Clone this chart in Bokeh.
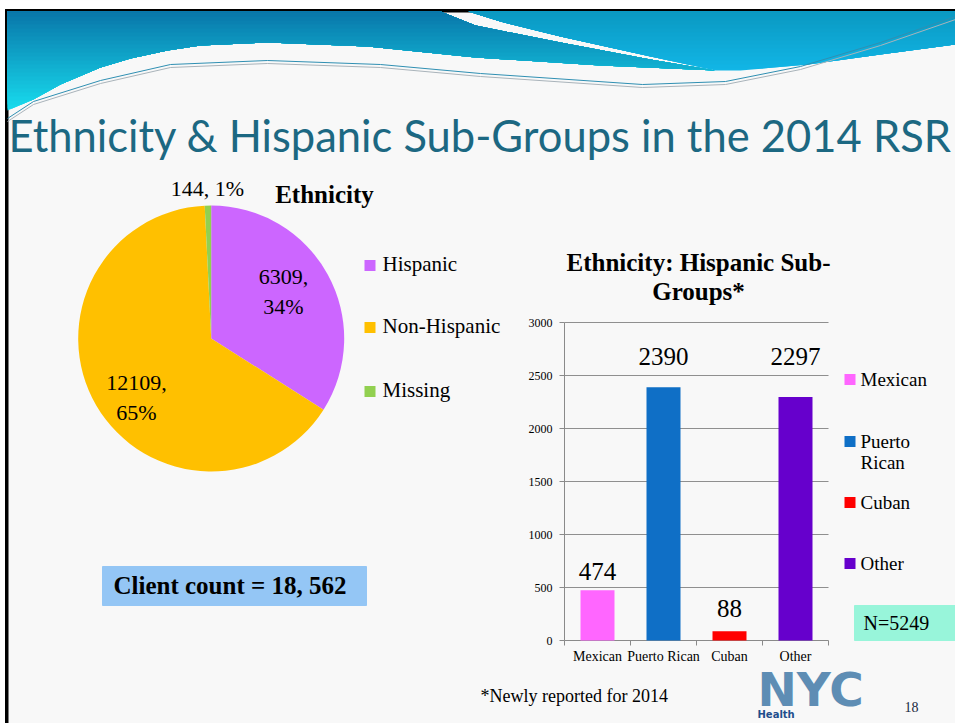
import math
import textwrap
from bokeh.plotting import figure
from bokeh.models import Range1d, ColumnDataSource
from bokeh.core.properties import value
from bokeh.embed import file_html
from bokeh.resources import INLINE

# ---------------- data ----------------
eth_labels = ["Hispanic", "Non-Hispanic", "Missing"]
eth_counts = [6309, 12109, 144]
eth_colors = ["#CC66FF", "#FFC000", "#92D050"]

sub_labels = ["Mexican", "Puerto Rican", "Cuban", "Other"]
sub_counts = [474, 2390, 88, 2297]
sub_colors = ["#FF66FF", "#0F6FC6", "#FF0000", "#6600CC"]

y_ticks = [0, 500, 1000, 1500, 2000, 2500, 3000]

title_text = "Ethnicity & Hispanic Sub-Groups in the 2014 RSR"
pie_title = "Ethnicity"
bar_title_lines = ["Ethnicity: Hispanic Sub-", "Groups*"]
footnote = "*Newly reported for 2014"
page_no = "18"

# ---------------- layout (reference pixel space) ----------------
W, H = 955, 723
X0, Y0 = 0, 0


def Y(py):
    return (Y0 + H) + Y0 - py


def YB(baseline, size, r=0.34):
    """data y of the text middle for a wanted baseline (pixels from top)"""
    return Y(baseline - r * size)


SERIF = value("Liberation Serif")
SANS = value("Lato")
BG = "#F8F8F8"

p = figure(width=W, height=H, x_range=Range1d(X0, X0 + W), y_range=Range1d(Y0, Y0 + H),
           output_backend="svg", toolbar_location=None, x_axis_type=None, y_axis_type=None,
           min_border=0, outline_line_color=None, background_fill_color=BG,
           border_fill_color=BG)
p.grid.grid_line_color = None

# ---- slide frame ----
p.quad(left=0, right=W, bottom=Y(9), top=Y(0), color="white")
p.quad(left=0, right=5, bottom=Y(H), top=Y(0), color="white")
p.quad(left=5, right=W, bottom=Y(11.5), top=Y(9), color="black")
p.quad(left=5, right=7.5, bottom=Y(H), top=Y(9), color="black")


# ---- header swoosh (decoration) ----
def clip_above(poly, ycut):
    """keep part of polygon with py <= ycut"""
    out = []
    n = len(poly)
    for i in range(n):
        a, b = poly[i], poly[(i + 1) % n]
        ina, inb = a[1] <= ycut, b[1] <= ycut
        if ina:
            out.append(a)
        if ina != inb:
            t = (ycut - a[1]) / (b[1] - a[1])
            out.append((a[0] + t * (b[0] - a[0]), ycut))
    return out


def mix(c1, c2, t):
    a = [int(c1[i:i + 2], 16) for i in (1, 3, 5)]
    b = [int(c2[i:i + 2], 16) for i in (1, 3, 5)]
    return "#%02x%02x%02x" % tuple(round(a[j] + (b[j] - a[j]) * t) for j in range(3))


swoosh_a = [(7, 11), (440, 11), (475, 25), (560, 42), (650, 59), (715, 70),
            (600, 65), (475, 57), (367, 46), (267, 42), (200, 45), (167, 50), (130, 58),
            (100, 67), (60, 84), (33, 99), (7, 110)]
swoosh_b = [(468, 11), (955, 11), (955, 44), (880, 54), (808, 64), (740, 70),
            (715, 70), (650, 56), (560, 36), (500, 21)]


def bands(poly, ytop, ybot, ctop, cbot, step=4):
    ycut = ybot
    while ycut > ytop:
        t = (ycut - ytop) / (ybot - ytop)
        cp = clip_above(poly, ycut)
        if len(cp) >= 3:
            p.patch([q[0] for q in cp], [Y(q[1]) for q in cp], color=mix(ctop, cbot, t),
                    line_color=None)
        ycut -= step


bands(swoosh_a, 11, 112, "#0874A8", "#18DCEE")
bands(swoosh_b, 11, 72, "#0A98C0", "#12B6E6")

curve_pts = [(7, 118), (33, 101), (100, 80), (170, 64), (267, 60), (380, 64), (480, 73),
             (642, 84), (725, 81), (800, 66), (880, 42), (955, 16)]
p.line([q[0] for q in curve_pts], [Y(q[1]) for q in curve_pts], line_color="#2F8FB2", line_width=1)
p.line([q[0] for q in curve_pts], [Y(q[1] + 3) for q in curve_pts], line_color="#A9B3BA", line_width=1)

# ---- title ----
p.text(x=[8], y=[YB(151, 43.5, 0.37)], text=[title_text], text_font=SANS,
       text_font_size="43.5px", text_color="#1C6882", text_baseline="middle", text_align="left")

# ---- pie ----
cx, cy, R = 210.7, Y(338), 133
total = sum(eth_counts)
fr = [c / total for c in eth_counts]
cum = [0.0]
for f in fr:
    cum.append(cum[-1] + f)
starts = [math.pi / 2 - 2 * math.pi * cum[i] for i in range(len(fr))]
ends = [math.pi / 2 - 2 * math.pi * cum[i + 1] for i in range(len(fr))]
p.wedge(x=cx, y=cy, radius=R, start_angle=starts, end_angle=ends, direction="clock",
        fill_color=eth_colors, line_color=None)

label_r = [0.62, 0.72, 1.13]
label_nudge = [(0, 7), (8, -11), (0, 0)]
lbl_x, lbl_y, lbl_t = [], [], []
for i, c in enumerate(eth_counts):
    mid = (starts[i] + ends[i]) / 2
    lx = cx + label_r[i] * R * math.cos(mid) + label_nudge[i][0]
    ly = cy + label_r[i] * R * math.sin(mid) + label_nudge[i][1]
    pct = f"{round(100 * c / total)}%"
    if label_r[i] > 1:
        lines = [f"{c}, {pct}"]
    else:
        lines = [f"{c},", pct]
    nl = len(lines)
    for j, ln in enumerate(lines):
        lbl_x.append(lx)
        lbl_y.append(ly + (nl - 1) * 14.5 - j * 29)
        lbl_t.append(ln)
p.text(x=lbl_x, y=lbl_y, text=lbl_t, text_font=SERIF, text_font_size="22px",
       text_align="center", text_baseline="middle", text_color="black")

p.text(x=[324], y=[YB(202, 25)], text=[pie_title], text_font=SERIF, text_font_size="25px",
       text_font_style="bold", text_align="center", text_baseline="middle")

# pie legend
leg1_py = [265, 327, 391]
p.rect(x=[369.5] * 3, y=[Y(v) for v in leg1_py], width=11, height=11, fill_color=eth_colors,
       line_color=None)
p.text(x=[382] * 3, y=[YB(v + 6, 21) for v in leg1_py], text=eth_labels, text_font=SERIF,
       text_font_size="21px", text_baseline="middle", text_align="left")

# client count box
client_txt = "Client count = " + f"{total:,}".replace(",", ", ")
p.quad(left=102, right=366, top=Y(566), bottom=Y(605), color="#94C6F5")
p.text(x=[113], y=[YB(593, 25)], text=[client_txt], text_font=SERIF, text_font_size="25px",
       text_font_style="bold", text_baseline="middle")

# ---- bar chart (own scales placed in the slide) ----
PL, PR, PB, PT = 564, 828, 640, 322
ncat = len(sub_labels)
ymax = y_ticks[-1]
u = ncat / (PR - PL)
k = ymax / (PB - PT)
p.extra_x_ranges = {"bx": Range1d(0 - (PL - X0) * u, ncat + (X0 + W - PR) * u)}
p.extra_y_ranges = {"by": Range1d(0 - (Y0 + H - PB) * k, ymax + (PT - Y0) * k)}
B = dict(x_range_name="bx", y_range_name="by")

gl = y_ticks[1:]
p.segment(x0=[0] * len(gl), x1=[ncat] * len(gl), y0=gl, y1=gl, line_color="#8F8F8F",
          line_width=1, **B)
# axes
p.segment(x0=[0], x1=[0], y0=[0], y1=[ymax], line_color="#8A8A8A", line_width=1, **B)
p.segment(x0=[0], x1=[ncat], y0=[0], y1=[0], line_color="#8A8A8A", line_width=1, **B)
p.segment(x0=[-5 * u] * len(y_ticks), x1=[0] * len(y_ticks), y0=y_ticks, y1=y_ticks,
          line_color="#8A8A8A", line_width=1, **B)
p.segment(x0=list(range(ncat + 1)), x1=list(range(ncat + 1)), y0=[0] * (ncat + 1),
          y1=[-5 * k] * (ncat + 1), line_color="#8A8A8A", line_width=1, **B)

xc = [i + 0.5 for i in range(ncat)]
p.vbar(x=xc, top=sub_counts, bottom=0, width=34 / 66, fill_color=sub_colors,
       line_color=None, **B)

LIFT = [10, 22, 14, 32]
VAL_FS = 25
vsrc = ColumnDataSource(dict(x=xc, y=sub_counts, t=[str(v) for v in sub_counts],
                             off=[-(l + 0.34 * VAL_FS) for l in LIFT]))
p.text(x="x", y="y", text="t", y_offset="off", source=vsrc, text_font=SERIF,
       text_font_size=f"{VAL_FS}px", text_align="center", text_baseline="middle", **B)

p.text(x=xc, y=[0] * ncat, text=sub_labels, y_offset=21 - 0.34 * 14, text_font=SERIF,
       text_font_size="14px", text_align="center", text_baseline="middle", **B)
p.text(x=[0] * len(y_ticks), y=y_ticks, text=[str(t) for t in y_ticks], x_offset=-12,
       text_font=SERIF, text_font_size="12px", text_align="right", text_baseline="middle", **B)

# bar title
p.text(x=[698, 698], y=[YB(270, 25), YB(299, 25)], text=bar_title_lines, text_font=SERIF,
       text_font_size="25px", text_font_style="bold", text_align="center",
       text_baseline="middle")

# bar legend
leg2_py = [379, 441, 502, 563]
p.rect(x=[849.5] * ncat, y=[Y(v) for v in leg2_py], width=11, height=11,
       fill_color=sub_colors, line_color=None)
lx2, ly2, lt2 = [], [], []
for yy, lab in zip(leg2_py, sub_labels):
    for j, ln in enumerate(textwrap.wrap(lab, 7)):
        lx2.append(860)
        ly2.append(YB(yy + 6 + j * 21, 19))
        lt2.append(ln)
p.text(x=lx2, y=ly2, text=lt2, text_font=SERIF, text_font_size="19px",
       text_baseline="middle", text_align="left")

# N box
p.quad(left=854, right=W, top=Y(605), bottom=Y(640), color="#98F5DA")
p.text(x=[863], y=[YB(629, 20)], text=[f"N={sum(sub_counts)}"], text_font=SERIF,
       text_font_size="20px", text_baseline="middle")

# footer
p.text(x=[480], y=[YB(702, 18)], text=[footnote], text_font=SERIF, text_font_size="18px",
       text_baseline="middle")
p.text(x=[757], y=[Y(689)], text=["NYC"], text_font=value("DejaVu Sans"),
       text_font_size="47px", text_font_style="bold", text_color="#5E8DB4",
       text_baseline="middle")
p.text(x=[757], y=[YB(718, 10, 0.36)], text=["Health"], text_font=value("DejaVu Sans"),
       text_font_size="10px", text_font_style="bold", text_color="#1F4E8C",
       text_baseline="middle")
p.text(x=[904], y=[YB(711, 14)], text=[page_no], text_font=SERIF, text_font_size="14px",
       text_color="#1A2A40", text_baseline="middle")

open("out.html", "w").write(file_html(p, INLINE))
